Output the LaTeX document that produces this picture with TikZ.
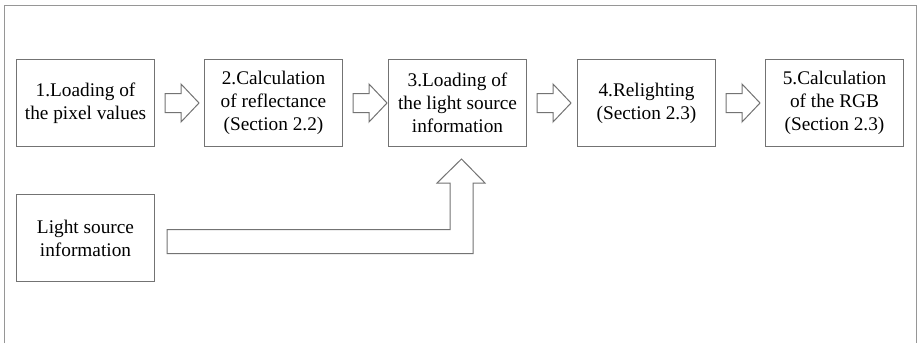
\documentclass[tikz,border=0pt]{standalone}
\usepackage{fontspec}
\setmainfont{Liberation Serif}
\usetikzlibrary{positioning,calc}
\definecolor{linegray}{RGB}{115,115,115}
\definecolor{framegray}{RGB}{150,150,150}
\tikzset{
  stagebox/.style={
    draw=linegray,
    line width=1pt,
    minimum width=138pt,
    minimum height=87pt,
    inner sep=2pt,
    align=center,
    font=\rmfamily\fontsize{19.3}{23}\selectfont
  },
  hollow/.style={
    draw=linegray,
    line width=1pt,
    line join=miter,
    fill=white
  }
}
\newcommand{\hollowarrow}[1]{%
  \draw[hollow] ($(#1.east)+(10,-9.5)$) -- ++(16,0) -- ++(0,-9.5)
    -- ++(18,19) -- ++(-18,19) -- ++(0,-9.5) -- ++(-16,0) -- cycle;
}

\begin{document}
\begin{tikzpicture}[x=1pt,y=-1pt]
  \useasboundingbox (0,0) rectangle (917,343);
  % outer frame, open at the bottom
  \draw[framegray, line width=1pt] (4,343) -- (4,5) -- (916,5) -- (916,343);

  \node[stagebox] (load) at (85.5,103) {1.Loading of\\the pixel values};
  \node[stagebox, right=49pt of load] (refl) {2.Calculation\\of reflectance\\(Section 2.2)};
  \node[stagebox, right=45pt of refl] (lsinfo) {3.Loading of\\the light source\\information};
  \node[stagebox, right=50pt of lsinfo] (relight) {4.Relighting\\(Section 2.3)};
  \node[stagebox, right=49pt of relight] (rgb) {5.Calculation\\of the RGB\\(Section 2.3)};
  \node[stagebox, below=47pt of load] (light) {Light source\\information};

  \foreach \n in {load,refl,lsinfo,relight} {
    \hollowarrow{\n}
  }

  % bent arrow from the light source box up to stage 3
  \coordinate (tip) at ($(lsinfo.south)+(4,12)$);
  \coordinate (shaftL) at ($(tip)+(-11.5,24)$);
  \coordinate (shaftR) at ($(tip)+(11.5,24)$);
  \coordinate (topL) at ($(light.east)+(12,-8.5)$);
  \coordinate (botL) at ($(light.east)+(12,15.5)$);
  \draw[hollow] (topL) -- (topL -| shaftL) -- (shaftL) -- ++(-13,0)
    -- (tip) -- ($(shaftR)+(12,0)$) -- (shaftR) -- (botL -| shaftR)
    -- (botL) -- cycle;
\end{tikzpicture}
\end{document}
